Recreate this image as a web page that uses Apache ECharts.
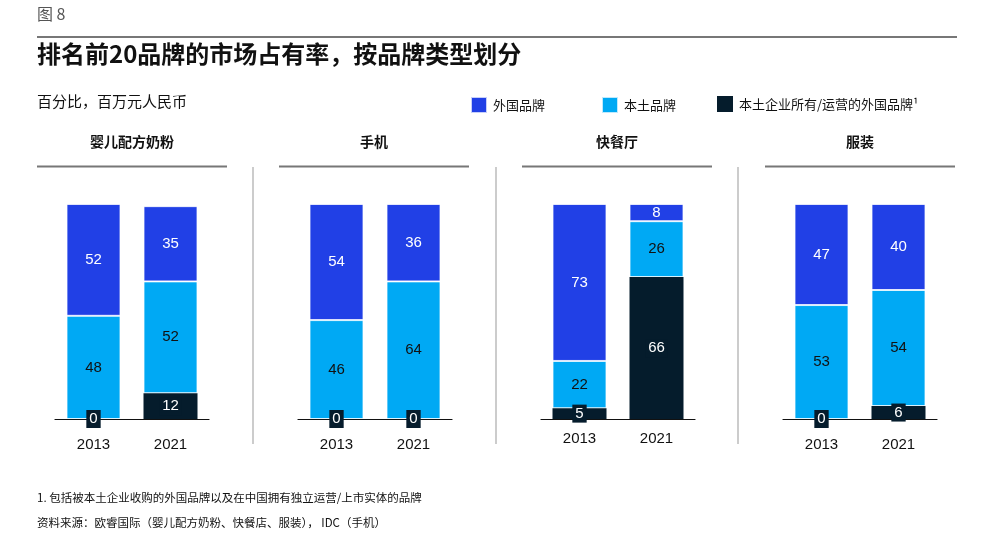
<!DOCTYPE html>
<html>
<head>
<meta charset="utf-8">
<script src="https://cdn.jsdelivr.net/npm/echarts@6/dist/echarts.min.js"></script>
<style>
html,body{margin:0;padding:0;background:#fff;}
#c{width:984px;height:535px;}
</style>
</head>
<body>
<div id="c"></div>
<script>
const panels = ['婴儿配方奶粉', '手机', '快餐厅', '服装'];
const years = ['2013', '2021'];
const seriesNames = ['外国品牌', '本土品牌', '本土企业所有/运营的外国品牌¹'];
const foreignBrands = [[52, 35], [54, 36], [73, 8], [47, 40]];
const localBrands = [[48, 52], [46, 64], [22, 26], [53, 54]];
const localOwnedForeign = [[0, 12], [0, 0], [5, 66], [0, 6]];

const C_BLUE = '#2140E6';
const C_LIGHT = '#00A9F4';
const C_NAVY = '#051C2C';
const CJK = '"Noto Sans CJK SC", "Noto Sans", sans-serif';
const LAT = '"Liberation Sans", Arial, sans-serif';

const gridLefts = [55, 298, 541, 783];
const labelMargins = [18, 18, 12, 18];
const headerCenters = [132, 374, 617, 860];

const grids = [], xAxes = [], yAxes = [], series = [], titles = [], graphics = [];

panels.forEach((p, i) => {
  grids.push({left: gridLefts[i], width: 154, top: 204, bottom: 116});
  xAxes.push({
    type: 'category', gridIndex: i, data: years,
    axisLine: {show: true, lineStyle: {color: '#111', width: 1.2}},
    axisTick: {show: false},
    axisLabel: {color: '#111', fontSize: 15, fontFamily: LAT, margin: labelMargins[i]}
  });
  yAxes.push({type: 'value', gridIndex: i, min: 0, max: 100, show: false});
  series.push({
    name: seriesNames[2], type: 'bar', stack: 's' + i, xAxisIndex: i, yAxisIndex: i,
    barWidth: 54, data: localOwnedForeign[i],
    itemStyle: {color: C_NAVY},
    label: {show: true, position: 'inside', color: '#fff', fontSize: 15, fontFamily: LAT,
      backgroundColor: C_NAVY, padding: [2, 3, 1, 3]},
    z: 3
  });
  series.push({
    name: seriesNames[1], type: 'bar', stack: 's' + i, xAxisIndex: i, yAxisIndex: i,
    barWidth: 54, data: localBrands[i],
    itemStyle: {color: C_LIGHT, borderColor: 'rgba(255,255,255,0.75)', borderWidth: 1},
    label: {show: true, position: 'inside', color: '#111', fontSize: 15, fontFamily: LAT},
    z: 2
  });
  series.push({
    name: seriesNames[0], type: 'bar', stack: 's' + i, xAxisIndex: i, yAxisIndex: i,
    barWidth: 54, data: foreignBrands[i],
    itemStyle: {color: C_BLUE, borderColor: 'rgba(255,255,255,0.75)', borderWidth: 1},
    label: {show: true, position: 'inside', color: '#fff', fontSize: 15, fontFamily: LAT},
    z: 2
  });
  titles.push({
    text: p, left: headerCenters[i], top: 135, textAlign: 'center', padding: 0,
    textStyle: {fontSize: 14, fontWeight: 'bold', color: '#111', fontFamily: CJK}
  });
  graphics.push({
    type: 'line', shape: {x1: headerCenters[i] - 95, y1: 166.5, x2: headerCenters[i] + 95, y2: 166.5},
    style: {stroke: '#777', lineWidth: 2}
  });
});

[253, 496, 738].forEach(x => {
  graphics.push({
    type: 'line', shape: {x1: x, y1: 167, x2: x, y2: 444},
    style: {stroke: '#bbb', lineWidth: 1.5}
  });
});
graphics.push({
  type: 'line', shape: {x1: 37, y1: 37, x2: 957, y2: 37},
  style: {stroke: '#777', lineWidth: 2}
});

titles.push(
  {text: '图 8', left: 37, top: 6, padding: 0, textStyle: {fontSize: 16, fontWeight: 'normal', color: '#555', fontFamily: CJK}},
  {text: '排名前20品牌的市场占有率，按品牌类型划分', left: 37, top: 42, padding: 0,
    textStyle: {fontSize: 24, fontWeight: 'bold', color: '#111', fontFamily: CJK}},
  {text: '百分比，百万元人民币', left: 37, top: 94, padding: 0,
    textStyle: {fontSize: 15, fontWeight: 'normal', color: '#111', fontFamily: CJK}},
  {text: '1. 包括被本土企业收购的外国品牌以及在中国拥有独立运营/上市实体的品牌', left: 37, top: 492, padding: 0,
    textStyle: {fontSize: 11.5, fontWeight: 'normal', color: '#111', fontFamily: CJK}},
  {text: '资料来源：欧睿国际（婴儿配方奶粉、快餐店、服装）， IDC（手机）', left: 37, top: 517, padding: 0,
    textStyle: {fontSize: 11.5, fontWeight: 'normal', color: '#111', fontFamily: CJK}}
);

const legendLefts = [470, 601, 717];
const legends = seriesNames.map((n, k) => ({
  data: [n], left: legendLefts[k], top: 96, itemWidth: 16, itemHeight: 16, itemGap: 0,
  padding: 0, icon: 'rect', selectedMode: false,
  textStyle: {fontSize: 13, color: '#111', fontFamily: CJK, padding: [0, 0, 0, 1]}
}));

const chart = echarts.init(document.getElementById('c'));
chart.setOption({
  animation: false,
  color: [C_NAVY, C_LIGHT, C_BLUE],
  title: titles,
  legend: legends,
  grid: grids,
  xAxis: xAxes,
  yAxis: yAxes,
  series: series,
  graphic: graphics
});
</script>
</body>
</html>
